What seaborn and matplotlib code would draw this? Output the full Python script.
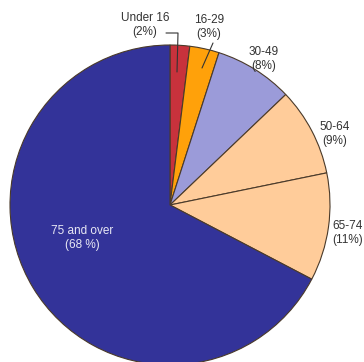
import matplotlib
matplotlib.use("Agg")
import matplotlib.pyplot as plt
import seaborn as sns

sns.set_theme(style="white")
plt.rcParams['font.family'] = ['Liberation Sans', 'DejaVu Sans']

# data
age_groups = ['Under 16', '16-29', '30-49', '50-64', '65-74', '75 and over']
shares = [2, 3, 8, 9, 11, 68]
pct_labels = ['(2%)', '(3%)', '(8%)', '(9%)', '(11%)', '(68 %)']
colors = ['#c8323c', '#ffa10a', '#9b9bd9', '#ffcc9a', '#ffcc9a', '#333399']

W, H = 364, 362
fig = plt.figure(figsize=(W / 100, H / 100), dpi=100)
ax = fig.add_axes([0, 0, 1, 1])

def py(y):
    # pixel row -> data y
    return H - y

cx, cy, r = 170, 205, 160
ax.pie(shares, colors=colors, startangle=90, counterclock=False,
       center=(cx, py(cy)), radius=r,
       wedgeprops=dict(edgecolor='#4a3a2a', linewidth=0.8))
ax.set_xlim(0, W)
ax.set_ylim(0, H)
ax.set_aspect('equal')
ax.axis('off')

txt = dict(fontsize=8.5, ha='center', va='center', linespacing=1.15)
label_pos = [(145, 25), (209, 27), (264, 59), (335, 134), (348, 233), (82, 238)]
for i, (name, pct) in enumerate(zip(age_groups, pct_labels)):
    x, y = label_pos[i]
    c = '#e8e8f4' if i == 5 else '#333333'
    ax.text(x, py(y), f"{name}\n{pct}", color=c, **txt)

# leader lines
ax.plot([166, 178, 177], [py(33), py(33), py(72)], color='#333333', lw=0.8)
ax.plot([213, 202], [py(43), py(68)], color='#333333', lw=0.8)

fig.savefig('out.png', dpi=100)
